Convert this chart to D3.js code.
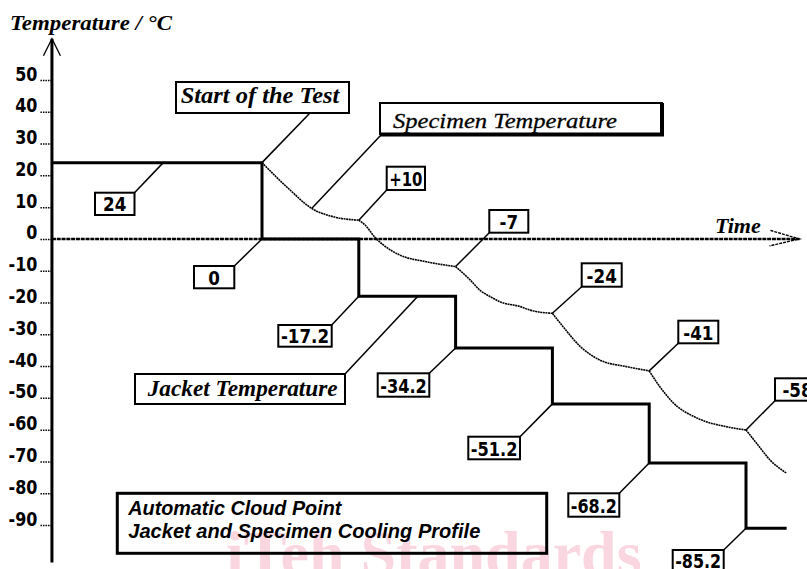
<!DOCTYPE html>
<html><head><meta charset="utf-8">
<script src="https://cdn.jsdelivr.net/npm/d3@7"></script>
<style>body{margin:0;background:#fff}svg{display:block;background:#fff}</style>
</head><body><svg id="c" width="807" height="569"></svg>
<script>
// ---------- data ----------
const yTicks = [50, 40, 30, 20, 10, 0, -10, -20, -30, -40, -50, -60, -70, -80, -90];

// Jacket temperature step profile (time in step intervals, temp as drawn)
const jacketTimes = [-2.17, 0, 1, 2, 3, 4, 5, 5.42];
const jacketTemps = [24, 0, -18.0, -34.3, -51.9, -70.5, -91.0, -91.0];
const jacketLabels = ["24", "0", "-17.2", "-34.2", "-51.2", "-68.2", "-85.2"];
const jacketLabelTimes = [-1.02, 0, 1, 2, 3, 4, 5];

// Specimen temperature curve
const specimenTimes = [0, 0.289, 0.513, 0.733, 1,
  1.064, 1.167, 1.253, 1.426, 1.70, 2,
  2.15, 2.25, 2.36, 2.46, 2.67, 2.77, 3,
  3.11, 3.29, 3.49, 3.77, 4,
  4.11, 4.25, 4.49, 4.80, 5,
  5.11, 5.25, 5.42];
const specimenTemps = [24, 15.4, 9.6, 7.0, 5.9,
  4.4, 0.5, -1.9, -5.1, -7.2, -8.7,
  -12.9, -16.1, -18.2, -19.8, -21.3, -22.4, -23.4,
  -27.6, -33.9, -38.1, -40.2, -41.5,
  -46.5, -51.6, -56.3, -59.1, -60.1,
  -64.3, -69.6, -73.7];
const specimenLabels = ["+10", "-7", "-24", "-41", "-58"];
const specimenLabelTimes = [1, 2, 3, 4, 5];

const titleText = "Temperature / °C";
const timeText = "Time";
const startText = "Start of the Test";
const specText = "Specimen Temperature";
const jackText = "Jacket Temperature";
const noteLines = ["Automatic Cloud Point", "Jacket and Specimen Cooling Profile"];
const watermarkText = "iTeh Standards";

// ---------- layout (pixels) ----------
const jacketBoxes = [
  {x: 95, y: 192.7, w: 39.5, h: 22.3, c: "tr"},
  {x: 194, y: 266, w: 40.3, h: 22.3, c: "tr"},
  {x: 278.3, y: 325, w: 53.4, h: 21.7, c: "tr"},
  {x: 377.7, y: 373.3, w: 51.6, h: 23.4, c: "tr"},
  {x: 468.3, y: 436.7, w: 51.7, h: 22.6, c: "tr"},
  {x: 568.3, y: 493.3, w: 51, h: 23.4, c: "tr"},
  {x: 672.7, y: 550, w: 51, h: 22, c: "tr"}
];
const specimenBoxes = [
  {x: 386.7, y: 166.7, w: 38.3, h: 23.3, c: "bl"},
  {x: 489.3, y: 210, w: 39, h: 22.7, c: "bl"},
  {x: 581.7, y: 263.3, w: 40, h: 23.4, c: "bl"},
  {x: 678.3, y: 320.7, w: 40, h: 22.6, c: "bl"},
  {x: 775, y: 378.3, w: 45, h: 22.4, c: "bl"}
];

const svg = d3.select("#c");
const x = d3.scaleLinear().domain([0, 5]).range([262, 746]);
const y = d3.scaleLinear().domain([-90, 50]).range([525, 80]);
const SERIF = "'Liberation Serif','Times New Roman',serif";
const SANS = "'Liberation Sans',Arial,sans-serif";
const COND = "'DejaVu Sans',sans-serif";

function fitText(sel, len) {
  sel.attr("textLength", len).attr("lengthAdjust", "spacingAndGlyphs");
}

// watermark
svg.append("text").attr("x", 226).attr("y", 575)
  .attr("font-family", SERIF).attr("font-weight", "bold").attr("font-size", 64)
  .attr("fill", "#f9d6e0").text(watermarkText);

// ---------- axes ----------
const axisT = -2.17;
const X0 = x(axisT);
const Y0 = y(0);
const gy = svg.append("g").attr("transform", `translate(${X0},0)`)
  .call(d3.axisLeft(y).tickValues(yTicks).tickSize(12).tickFormat(d => String(d)));
gy.select(".domain").remove();
gy.selectAll(".tick line").attr("stroke", "#000").attr("stroke-width", 1.5).attr("stroke-dasharray", "1.5,1");
gy.selectAll(".tick text").attr("x", -14.5).attr("dy", 0)
  .attr("font-family", COND).attr("font-weight", "bold").attr("font-size", 19)
  .attr("fill", "#000")
  .each(function () {
    const n = this.getComputedTextLength();
    d3.select(this).attr("textLength", n * 0.84).attr("lengthAdjust", "spacingAndGlyphs");
  });

const yTop = y(63), yBot = y(-101.8);
svg.append("line").attr("x1", X0).attr("x2", X0).attr("y1", yTop).attr("y2", yBot)
  .attr("stroke", "#000").attr("stroke-width", 3);
svg.append("path").attr("d", `M${X0 - 8.5},${yTop + 17}L${X0},${yTop}L${X0 + 8.5},${yTop + 17}`)
  .attr("fill", "none").attr("stroke", "#000").attr("stroke-width", 1.3);

const xTip = x(5.552);
svg.append("line").attr("x1", X0).attr("x2", xTip).attr("y1", Y0).attr("y2", Y0)
  .attr("stroke", "#000").attr("stroke-width", 2.5).attr("stroke-dasharray", "4,0.8");
svg.append("path").attr("d", `M${xTip - 29},${Y0 - 8.5}L${xTip},${Y0}L${xTip - 30},${Y0 + 7}`)
  .attr("fill", "none").attr("stroke", "#000").attr("stroke-width", 1.4).attr("stroke-dasharray", "3,1");

fitText(svg.append("text").attr("x", 10).attr("y", 30)
  .attr("font-family", SERIF).attr("font-weight", "bold").attr("font-style", "italic")
  .attr("font-size", 21).text(titleText), 162);
fitText(svg.append("text").attr("x", 715).attr("y", 232.7)
  .attr("font-family", SERIF).attr("font-weight", "bold").attr("font-style", "italic")
  .attr("font-size", 21).text(timeText), 45.7);

// ---------- series ----------
const jacketData = jacketTimes.map((t, i) => ({t, v: jacketTemps[i]}));
svg.append("path").datum(jacketData)
  .attr("d", d3.line().x(d => x(d.t)).y(d => y(d.v)).curve(d3.curveStepAfter))
  .attr("fill", "none").attr("stroke", "#000").attr("stroke-width", 3).attr("stroke-linejoin", "miter");

const specData = specimenTimes.map((t, i) => ({t, v: specimenTemps[i]}));
const breaks = [0, 1, 2, 3, 4, 5, 99];
const specLine = d3.line().x(d => x(d.t)).y(d => y(d.v)).curve(d3.curveMonotoneX);
for (let b = 0; b < breaks.length - 1; b++) {
  const seg = specData.filter(d => d.t >= breaks[b] && d.t <= breaks[b + 1]);
  if (seg.length < 2) continue;
  svg.append("path").datum(seg).attr("d", specLine)
    .attr("fill", "none").attr("stroke", "#000").attr("stroke-width", 1.6)
    .attr("stroke-dasharray", "2,0.6");
}

// ---------- annotations ----------
function corner(b) {
  if (b.c === "tr") return [b.x + b.w, b.y];
  if (b.c === "bl") return [b.x, b.y + b.h];
  return [b.x, b.y];
}
function valueBox(b, text, ax, ay) {
  const [cx, cy] = corner(b);
  svg.append("line").attr("x1", ax).attr("y1", ay).attr("x2", cx).attr("y2", cy)
    .attr("stroke", "#000").attr("stroke-width", 1.5);
  svg.append("rect").attr("x", b.x).attr("y", b.y).attr("width", b.w).attr("height", b.h)
    .attr("fill", "none").attr("stroke", "#000").attr("stroke-width", 2);
  const t = svg.append("text").attr("x", b.x + b.w / 2).attr("y", b.y + b.h - 3.6)
    .attr("text-anchor", "middle").attr("font-family", COND).attr("font-weight", "bold")
    .attr("font-size", 19).text(text);
  const nat = t.node().getComputedTextLength();
  fitText(t, Math.min(nat * 0.88, b.w - 5));
}
jacketLabels.forEach((lab, i) => {
  valueBox(jacketBoxes[i], lab, x(jacketLabelTimes[i]), y(jacketTemps[i]));
});
specimenLabels.forEach((lab, i) => {
  const p = specData.find(d => d.t === specimenLabelTimes[i]);
  valueBox(specimenBoxes[i], lab, x(p.t), y(p.v));
});

// Start of the Test
svg.append("line").attr("x1", 310).attr("y1", 113).attr("x2", x(0)).attr("y2", y(jacketTemps[0]))
  .attr("stroke", "#000").attr("stroke-width", 1.5);
svg.append("rect").attr("x", 176).attr("y", 82).attr("width", 173).attr("height", 31)
  .attr("fill", "none").attr("stroke", "#000").attr("stroke-width", 2);
fitText(svg.append("text").attr("x", 180.7).attr("y", 103.3)
  .attr("font-family", SERIF).attr("font-weight", "bold").attr("font-style", "italic")
  .attr("font-size", 23).text(startText), 158.6);

// Specimen Temperature
const sp = specData[2];
svg.append("line").attr("x1", 381).attr("y1", 135).attr("x2", x(sp.t)).attr("y2", y(sp.v))
  .attr("stroke", "#000").attr("stroke-width", 1.5);
svg.append("rect").attr("x", 380).attr("y", 103).attr("width", 282).attr("height", 31)
  .attr("fill", "none").attr("stroke", "#000").attr("stroke-width", 2);
svg.append("path").attr("d", "M662,103L662,134.5L380,134.5")
  .attr("fill", "none").attr("stroke", "#000").attr("stroke-width", 4);
fitText(svg.append("text").attr("x", 393).attr("y", 128)
  .attr("font-family", SERIF).attr("font-style", "italic")
  .attr("font-size", 22).attr("stroke", "#000").attr("stroke-width", 0.3).text(specText), 224);

// Jacket Temperature
svg.append("line").attr("x1", 345).attr("y1", 374).attr("x2", x(1.61)).attr("y2", y(jacketTemps[2]))
  .attr("stroke", "#000").attr("stroke-width", 1.5);
svg.append("rect").attr("x", 135).attr("y", 374).attr("width", 210).attr("height", 30)
  .attr("fill", "none").attr("stroke", "#000").attr("stroke-width", 2);
fitText(svg.append("text").attr("x", 147.7).attr("y", 395.7)
  .attr("font-family", SERIF).attr("font-weight", "bold").attr("font-style", "italic")
  .attr("font-size", 23).text(jackText), 190);

// Note box
svg.append("rect").attr("x", 117.3).attr("y", 493.3).attr("width", 429.4).attr("height", 60)
  .attr("fill", "none").attr("stroke", "#000").attr("stroke-width", 3);
const noteLens = [213, 352];
const noteBase = [515, 538.3];
noteLines.forEach((l, i) => {
  fitText(svg.append("text").attr("x", 128.3).attr("y", noteBase[i])
    .attr("font-family", SANS).attr("font-weight", "bold").attr("font-style", "italic")
    .attr("font-size", 20).text(l), noteLens[i]);
});
</script></body></html>
